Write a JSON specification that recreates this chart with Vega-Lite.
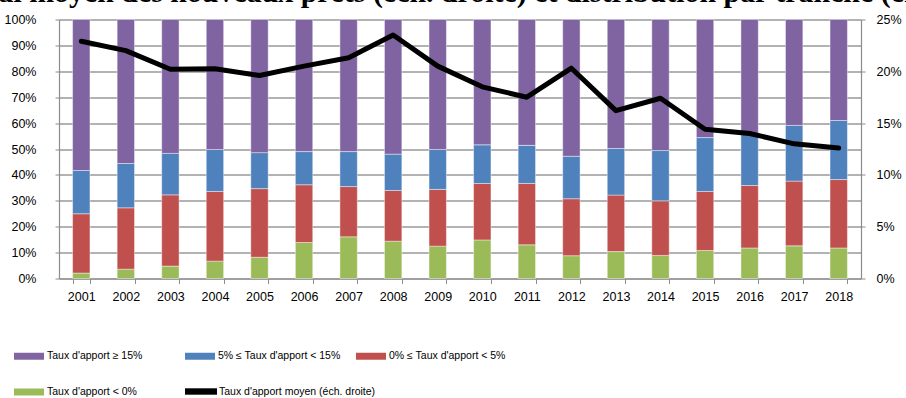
{
  "$schema": "https://vega.github.io/schema/vega-lite/v6.json",
  "autosize": {"type": "none"},
  "width": 802,
  "height": 259,
  "padding": {"left": 59, "top": 19.5, "right": 45, "bottom": 119.5},
  "background": "white",
  "config": {"view": {"stroke": null}},
  "title": {
    "text": "Taux d'apport initial moyen des nouveaux prêts (éch. droite) et distribution par tranche (en %)",
    "anchor": "start",
    "frame": "group",
    "font": "Liberation Serif",
    "fontSize": 29.9,
    "fontWeight": "bold",
    "color": "black",
    "baseline": "alphabetic",
    "dx": -302,
    "dy": 24,
    "offset": 5.5
  },
  "datasets": {
    "bars": [
      {"year": "2001", "cat": "Taux d'apport < 0%", "ord": 1, "v": 2.1},
      {"year": "2001", "cat": "0% ≤ Taux d'apport < 5%", "ord": 2, "v": 22.9},
      {"year": "2001", "cat": "5% ≤ Taux d'apport < 15%", "ord": 3, "v": 16.7},
      {"year": "2001", "cat": "Taux d'apport ≥ 15%", "ord": 4, "v": 58.3},
      {"year": "2002", "cat": "Taux d'apport < 0%", "ord": 1, "v": 3.6},
      {"year": "2002", "cat": "0% ≤ Taux d'apport < 5%", "ord": 2, "v": 23.7},
      {"year": "2002", "cat": "5% ≤ Taux d'apport < 15%", "ord": 3, "v": 17.1},
      {"year": "2002", "cat": "Taux d'apport ≥ 15%", "ord": 4, "v": 55.6},
      {"year": "2003", "cat": "Taux d'apport < 0%", "ord": 1, "v": 4.8},
      {"year": "2003", "cat": "0% ≤ Taux d'apport < 5%", "ord": 2, "v": 27.5},
      {"year": "2003", "cat": "5% ≤ Taux d'apport < 15%", "ord": 3, "v": 16.0},
      {"year": "2003", "cat": "Taux d'apport ≥ 15%", "ord": 4, "v": 51.7},
      {"year": "2004", "cat": "Taux d'apport < 0%", "ord": 1, "v": 6.7},
      {"year": "2004", "cat": "0% ≤ Taux d'apport < 5%", "ord": 2, "v": 26.9},
      {"year": "2004", "cat": "5% ≤ Taux d'apport < 15%", "ord": 3, "v": 16.2},
      {"year": "2004", "cat": "Taux d'apport ≥ 15%", "ord": 4, "v": 50.2},
      {"year": "2005", "cat": "Taux d'apport < 0%", "ord": 1, "v": 8.2},
      {"year": "2005", "cat": "0% ≤ Taux d'apport < 5%", "ord": 2, "v": 26.5},
      {"year": "2005", "cat": "5% ≤ Taux d'apport < 15%", "ord": 3, "v": 13.9},
      {"year": "2005", "cat": "Taux d'apport ≥ 15%", "ord": 4, "v": 51.4},
      {"year": "2006", "cat": "Taux d'apport < 0%", "ord": 1, "v": 13.9},
      {"year": "2006", "cat": "0% ≤ Taux d'apport < 5%", "ord": 2, "v": 22.3},
      {"year": "2006", "cat": "5% ≤ Taux d'apport < 15%", "ord": 3, "v": 12.8},
      {"year": "2006", "cat": "Taux d'apport ≥ 15%", "ord": 4, "v": 51.0},
      {"year": "2007", "cat": "Taux d'apport < 0%", "ord": 1, "v": 16.1},
      {"year": "2007", "cat": "0% ≤ Taux d'apport < 5%", "ord": 2, "v": 19.4},
      {"year": "2007", "cat": "5% ≤ Taux d'apport < 15%", "ord": 3, "v": 13.5},
      {"year": "2007", "cat": "Taux d'apport ≥ 15%", "ord": 4, "v": 51.0},
      {"year": "2008", "cat": "Taux d'apport < 0%", "ord": 1, "v": 14.4},
      {"year": "2008", "cat": "0% ≤ Taux d'apport < 5%", "ord": 2, "v": 19.6},
      {"year": "2008", "cat": "5% ≤ Taux d'apport < 15%", "ord": 3, "v": 14.0},
      {"year": "2008", "cat": "Taux d'apport ≥ 15%", "ord": 4, "v": 52.0},
      {"year": "2009", "cat": "Taux d'apport < 0%", "ord": 1, "v": 12.5},
      {"year": "2009", "cat": "0% ≤ Taux d'apport < 5%", "ord": 2, "v": 21.9},
      {"year": "2009", "cat": "5% ≤ Taux d'apport < 15%", "ord": 3, "v": 15.4},
      {"year": "2009", "cat": "Taux d'apport ≥ 15%", "ord": 4, "v": 50.2},
      {"year": "2010", "cat": "Taux d'apport < 0%", "ord": 1, "v": 14.9},
      {"year": "2010", "cat": "0% ≤ Taux d'apport < 5%", "ord": 2, "v": 21.8},
      {"year": "2010", "cat": "5% ≤ Taux d'apport < 15%", "ord": 3, "v": 14.9},
      {"year": "2010", "cat": "Taux d'apport ≥ 15%", "ord": 4, "v": 48.4},
      {"year": "2011", "cat": "Taux d'apport < 0%", "ord": 1, "v": 13.0},
      {"year": "2011", "cat": "0% ≤ Taux d'apport < 5%", "ord": 2, "v": 23.7},
      {"year": "2011", "cat": "5% ≤ Taux d'apport < 15%", "ord": 3, "v": 14.7},
      {"year": "2011", "cat": "Taux d'apport ≥ 15%", "ord": 4, "v": 48.6},
      {"year": "2012", "cat": "Taux d'apport < 0%", "ord": 1, "v": 8.8},
      {"year": "2012", "cat": "0% ≤ Taux d'apport < 5%", "ord": 2, "v": 22.0},
      {"year": "2012", "cat": "5% ≤ Taux d'apport < 15%", "ord": 3, "v": 16.4},
      {"year": "2012", "cat": "Taux d'apport ≥ 15%", "ord": 4, "v": 52.8},
      {"year": "2013", "cat": "Taux d'apport < 0%", "ord": 1, "v": 10.4},
      {"year": "2013", "cat": "0% ≤ Taux d'apport < 5%", "ord": 2, "v": 21.8},
      {"year": "2013", "cat": "5% ≤ Taux d'apport < 15%", "ord": 3, "v": 18.0},
      {"year": "2013", "cat": "Taux d'apport ≥ 15%", "ord": 4, "v": 49.8},
      {"year": "2014", "cat": "Taux d'apport < 0%", "ord": 1, "v": 8.9},
      {"year": "2014", "cat": "0% ≤ Taux d'apport < 5%", "ord": 2, "v": 21.1},
      {"year": "2014", "cat": "5% ≤ Taux d'apport < 15%", "ord": 3, "v": 19.4},
      {"year": "2014", "cat": "Taux d'apport ≥ 15%", "ord": 4, "v": 50.6},
      {"year": "2015", "cat": "Taux d'apport < 0%", "ord": 1, "v": 10.8},
      {"year": "2015", "cat": "0% ≤ Taux d'apport < 5%", "ord": 2, "v": 22.8},
      {"year": "2015", "cat": "5% ≤ Taux d'apport < 15%", "ord": 3, "v": 20.8},
      {"year": "2015", "cat": "Taux d'apport ≥ 15%", "ord": 4, "v": 45.6},
      {"year": "2016", "cat": "Taux d'apport < 0%", "ord": 1, "v": 11.8},
      {"year": "2016", "cat": "0% ≤ Taux d'apport < 5%", "ord": 2, "v": 24.1},
      {"year": "2016", "cat": "5% ≤ Taux d'apport < 15%", "ord": 3, "v": 20.0},
      {"year": "2016", "cat": "Taux d'apport ≥ 15%", "ord": 4, "v": 44.1},
      {"year": "2017", "cat": "Taux d'apport < 0%", "ord": 1, "v": 12.6},
      {"year": "2017", "cat": "0% ≤ Taux d'apport < 5%", "ord": 2, "v": 25.0},
      {"year": "2017", "cat": "5% ≤ Taux d'apport < 15%", "ord": 3, "v": 21.5},
      {"year": "2017", "cat": "Taux d'apport ≥ 15%", "ord": 4, "v": 40.9},
      {"year": "2018", "cat": "Taux d'apport < 0%", "ord": 1, "v": 11.8},
      {"year": "2018", "cat": "0% ≤ Taux d'apport < 5%", "ord": 2, "v": 26.4},
      {"year": "2018", "cat": "5% ≤ Taux d'apport < 15%", "ord": 3, "v": 22.8},
      {"year": "2018", "cat": "Taux d'apport ≥ 15%", "ord": 4, "v": 39.0}
    ],
    "line": [
      {"year": "2001", "cat": "Taux d'apport moyen (éch. droite)", "v": 22.9},
      {"year": "2002", "cat": "Taux d'apport moyen (éch. droite)", "v": 22.0},
      {"year": "2003", "cat": "Taux d'apport moyen (éch. droite)", "v": 20.2},
      {"year": "2004", "cat": "Taux d'apport moyen (éch. droite)", "v": 20.25},
      {"year": "2005", "cat": "Taux d'apport moyen (éch. droite)", "v": 19.6},
      {"year": "2006", "cat": "Taux d'apport moyen (éch. droite)", "v": 20.5},
      {"year": "2007", "cat": "Taux d'apport moyen (éch. droite)", "v": 21.3},
      {"year": "2008", "cat": "Taux d'apport moyen (éch. droite)", "v": 23.5},
      {"year": "2009", "cat": "Taux d'apport moyen (éch. droite)", "v": 20.5},
      {"year": "2010", "cat": "Taux d'apport moyen (éch. droite)", "v": 18.5},
      {"year": "2011", "cat": "Taux d'apport moyen (éch. droite)", "v": 17.5},
      {"year": "2012", "cat": "Taux d'apport moyen (éch. droite)", "v": 20.3},
      {"year": "2013", "cat": "Taux d'apport moyen (éch. droite)", "v": 16.2},
      {"year": "2014", "cat": "Taux d'apport moyen (éch. droite)", "v": 17.4},
      {"year": "2015", "cat": "Taux d'apport moyen (éch. droite)", "v": 14.4},
      {"year": "2016", "cat": "Taux d'apport moyen (éch. droite)", "v": 14.0},
      {"year": "2017", "cat": "Taux d'apport moyen (éch. droite)", "v": 13.0},
      {"year": "2018", "cat": "Taux d'apport moyen (éch. droite)", "v": 12.6}
    ]
  },
  "encoding": {
    "x": {
      "field": "year",
      "type": "nominal",
      "scale": {"paddingInner": 0.61, "paddingOuter": 0.305},
      "axis": {
        "title": null,
        "labelAngle": 0,
        "labelFont": "Liberation Sans",
        "labelFontSize": 12.5,
        "labelColor": "black",
        "labelPadding": 7,
        "tickBand": "extent",
        "tickSize": 5,
        "tickColor": "#8c8c8c",
        "domainColor": "#8c8c8c",
        "domainWidth": 1.2,
        "grid": false
      }
    }
  },
  "layer": [
    {
      "data": {"name": "bars"},
      "mark": {"type": "bar", "stroke": "white", "strokeWidth": 0.6, "strokeOpacity": 0.7},
      "encoding": {
        "y": {
          "field": "v",
          "type": "quantitative",
          "stack": "zero",
          "scale": {"domain": [0, 100], "nice": false},
          "axis": {
            "title": null,
            "orient": "left",
            "values": [0, 10, 20, 30, 40, 50, 60, 70, 80, 90, 100],
            "labelExpr": "datum.value + '%'",
            "labelFont": "Liberation Sans",
            "labelFontSize": 12.5,
            "labelColor": "black",
            "labelPadding": 19,
            "tickSize": 4,
            "tickColor": "#8c8c8c",
            "domainColor": "#8c8c8c",
            "domainWidth": 1.2,
            "grid": true,
            "gridColor": "#999999",
            "gridWidth": 1.3
          }
        },
        "order": {"field": "ord", "type": "quantitative"},
        "color": {
          "field": "cat",
          "type": "nominal",
          "scale": {
            "domain": ["Taux d'apport ≥ 15%", "5% ≤ Taux d'apport < 15%", "0% ≤ Taux d'apport < 5%", "Taux d'apport < 0%"],
            "range": ["#8064A2", "#4F81BD", "#C0504D", "#9BBB59"]
          },
          "legend": {
            "title": null,
            "orient": "none",
            "legendX": -45,
            "legendY": 321.5,
            "direction": "horizontal",
            "columns": 3,
            "gridAlign": "all",
            "columnPadding": 15,
            "rowPadding": 15,
            "padding": 0,
            "symbolType": "M-1,-0.233H1V0.233H-1Z",
            "symbolSize": 900,
            "symbolStrokeWidth": 0,
            "symbolOpacity": 1,
            "labelFont": "Liberation Sans",
            "labelFontSize": 10.5,
            "labelColor": "black",
            "labelOffset": 3,
            "labelLimit": 300
          }
        }
      }
    },
    {
      "data": {"name": "line"},
      "mark": {"type": "line", "strokeWidth": 5, "strokeCap": "round", "strokeJoin": "round"},
      "encoding": {
        "y": {
          "field": "v",
          "type": "quantitative",
          "scale": {"domain": [0, 25], "nice": false},
          "axis": {
            "title": null,
            "orient": "right",
            "values": [0, 5, 10, 15, 20, 25],
            "labelExpr": "datum.value + '%'",
            "labelFont": "Liberation Sans",
            "labelFontSize": 12.5,
            "labelColor": "black",
            "labelPadding": 11,
            "tickSize": 4,
            "tickColor": "#8c8c8c",
            "domainColor": "#8c8c8c",
            "domainWidth": 1.2,
            "grid": false
          }
        },
        "color": {
          "field": "cat",
          "type": "nominal",
          "scale": {"domain": ["Taux d'apport moyen (éch. droite)"], "range": ["#000000"]},
          "legend": {
            "title": null,
            "orient": "none",
            "legendX": 126,
            "legendY": 356,
            "padding": 0,
            "symbolType": "M-1,-0.2H1V0.2H-1Z",
            "symbolSize": 1024,
            "symbolFillColor": "#000000",
            "symbolStrokeColor": "#000000",
            "symbolStrokeWidth": 0,
            "symbolOpacity": 1,
            "labelFont": "Liberation Sans",
            "labelFontSize": 10.5,
            "labelColor": "black",
            "labelOffset": 2,
            "labelLimit": 300
          }
        }
      }
    }
  ],
  "resolve": {"scale": {"y": "independent", "color": "independent"}}
}
